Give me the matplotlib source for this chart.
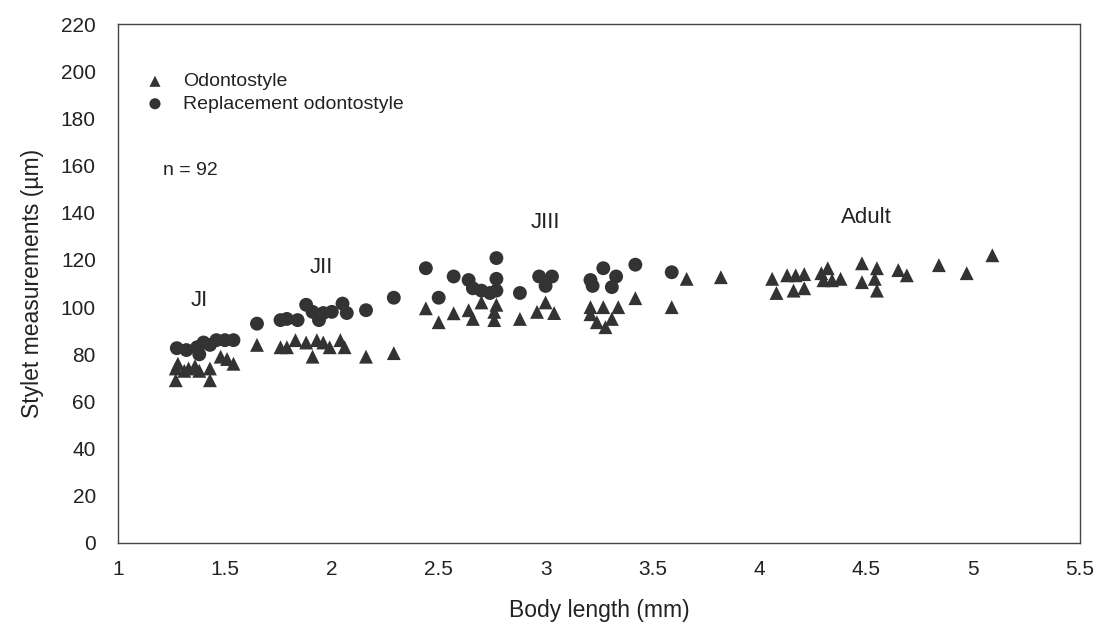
import matplotlib
matplotlib.use("Agg")
import matplotlib.pyplot as plt

plt.rcParams['font.family'] = ['Liberation Sans', 'DejaVu Sans']

# Odontostyle (triangles)
odo_x = [1.27, 1.27, 1.28, 1.31, 1.33, 1.36, 1.38, 1.43, 1.43, 1.48, 1.51, 1.54,
         1.65, 1.76, 1.79, 1.83, 1.88, 1.91, 1.93, 1.96, 1.99, 2.04, 2.06, 2.16, 2.29,
         2.44, 2.50, 2.57, 2.64, 2.66, 2.70, 2.77, 2.76, 2.76, 2.88, 2.96, 3.00, 3.04,
         3.21, 3.21, 3.27, 3.24, 3.28, 3.31, 3.34, 3.42, 3.59, 3.66, 3.82,
         4.06, 4.08, 4.13, 4.16, 4.17, 4.21, 4.21, 4.29, 4.30, 4.32, 4.34, 4.38,
         4.48, 4.48, 4.55, 4.54, 4.55, 4.65, 4.69, 4.84, 4.97, 5.09]
odo_y = [69, 74, 76, 73, 74, 75, 73, 69, 74, 79, 78, 76,
         84, 83, 83, 86, 85, 79, 86, 85, 83, 86, 83, 79, 80.5,
         99.5, 93.6, 97.4, 98.7, 95, 102, 101, 98, 94.5, 95, 98, 102, 97.5,
         100, 97, 100, 93.6, 91.5, 95, 100, 103.8, 100, 112, 112.7,
         112, 106, 113.5, 107, 113.5, 114, 108, 114.4, 111.4, 116.5, 111.4, 112,
         118.6, 110.6, 116.5, 112, 107, 115.7, 113.5, 117.8, 114.4, 122]

# Replacement odontostyle (circles)
rep_x = [1.275, 1.32, 1.37, 1.40, 1.43, 1.46, 1.50, 1.54, 1.38,
         1.65, 1.76, 1.79, 1.84, 1.88, 1.91, 1.94, 1.96, 2.00, 2.05, 2.07, 2.16, 2.29,
         2.44, 2.57, 2.50, 2.64, 2.66, 2.70, 2.74, 2.77, 2.77, 2.77, 2.88,
         2.97, 3.00, 3.03, 3.21, 3.22, 3.27, 3.33, 3.31, 3.42, 3.59]
rep_y = [82.6, 81.8, 83, 85, 84, 86, 86, 86, 80,
         93, 94.5, 95, 94.5, 101, 98, 94.5, 97.5, 98, 101.5, 97.5, 98.7, 104,
         116.5, 113, 104, 111.5, 108, 107, 106, 120.8, 112, 107, 106,
         113, 109, 113, 111.5, 109, 116.5, 113, 108.5, 118, 114.8]

stage_labels = ["JI", "JII", "JIII", "Adult"]
stage_x = [1.38, 1.95, 3.0, 4.5]
stage_y = [103, 117, 136, 138]

xticks = [1, 1.5, 2, 2.5, 3, 3.5, 4, 4.5, 5, 5.5]
xtick_labels = ["1", "1.5", "2", "2.5", "3", "3.5", "4", "4.5", "5", "5.5"]
yticks = list(range(0, 221, 20))

fig = plt.figure(figsize=(10.97, 6.35), dpi=100)
ax = fig.add_axes([0.1076, 0.1449, 0.8769, 0.8171])

col = '#333333'
ax.scatter(odo_x, odo_y, marker='^', s=100, color=col, edgecolors='none',
           label='Odontostyle', zorder=3)
ax.scatter(rep_x, rep_y, marker='o', s=100, color=col, edgecolors='none',
           label='Replacement odontostyle', zorder=3)

for lab, x, y in zip(stage_labels, stage_x, stage_y):
    ax.text(x, y, lab, fontsize=16, ha='center', va='center', color='#222222')

ax.text(1.21, 158, "n = 92", fontsize=14, ha='left', va='center', color='#222222')

ax.set_xlim(1, 5.5)
ax.set_ylim(0, 220)
ax.set_xticks(xticks)
ax.set_xticklabels(xtick_labels)
ax.set_yticks(yticks)
ax.tick_params(axis='both', length=0, labelsize=15, colors='#222222')
ax.tick_params(axis='y', pad=16)
ax.tick_params(axis='x', pad=12)

for s in ax.spines.values():
    s.set_color('#444444')
    s.set_linewidth(1)

ax.set_xlabel("Body length (mm)", fontsize=16.5, color='#222222', labelpad=15)
ax.set_ylabel("Stylet measurements (\u00b5m)", fontsize=16.5, color='#222222', labelpad=12)

leg = ax.legend(loc='upper left', bbox_to_anchor=(0.0, 0.94), frameon=False,
                fontsize=14, handletextpad=0.45, labelspacing=0.25,
                markerscale=0.8, scatterpoints=1)
for t in leg.get_texts():
    t.set_color('#222222')

fig.savefig("out.png", dpi=100)
